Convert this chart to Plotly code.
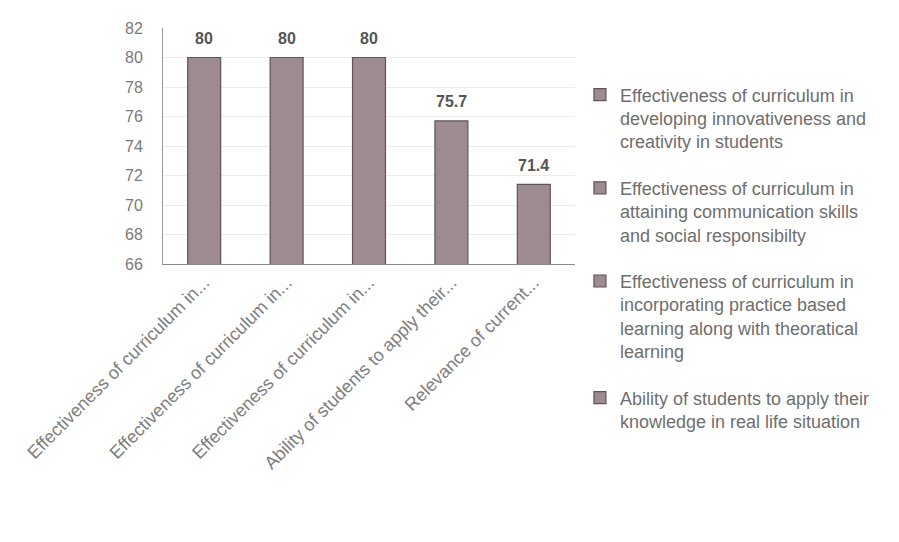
import plotly.graph_objects as go

categories = [
    "Effectiveness of curriculum in...",
    "Effectiveness of curriculum in...",
    "Effectiveness of curriculum in...",
    "Ability of students to apply their...",
    "Relevance of current...",
]
legend_names = [
    "Effectiveness of curriculum in<br>developing innovativeness and<br>creativity in students",
    "Effectiveness of curriculum in<br>attaining communication skills<br>and social responsibilty",
    "Effectiveness of curriculum in<br>incorporating practice based<br>learning along with theoratical<br>learning",
    "Ability of students to apply their<br>knowledge in real life situation",
    "Relevance of current...",
]
values = [80, 80, 80, 75.7, 71.4]
labels = ["80", "80", "80", "75.7", "71.4"]
show_in_legend = [True, True, True, True, False]
y_ticks = [66, 68, 70, 72, 74, 76, 78, 80, 82]

fig = go.Figure()
for i, (name, v, sl) in enumerate(zip(legend_names, values, show_in_legend)):
    fig.add_trace(go.Bar(
        x=[i], y=[v], name=name,
        marker=dict(color="#9d8b8f", line=dict(color="#5e5456", width=1.2)),
        width=0.40, showlegend=sl, legendgroup=f"g{i}",
    ))

for i, (v, lab) in enumerate(zip(values, labels)):
    fig.add_annotation(
        x=i, y=v, text=lab, showarrow=False, yshift=19, yanchor="middle",
        font=dict(family="Liberation Sans", size=16, color="#555555", weight="bold"),
    )

fig.update_layout(
    width=899, height=542,
    paper_bgcolor="white", plot_bgcolor="white",
    margin=dict(l=155, r=332, t=20, b=286, autoexpand=False),
    barmode="overlay",
    font=dict(family="Liberation Sans", color="#777777"),
    legend=dict(
        x=1.012, xanchor="left", y=0.795, yanchor="top",
        font=dict(family="Liberation Sans", size=18, color="#6e6e6e"),
        tracegroupgap=20, traceorder="grouped", valign="top",
        itemwidth=30, maxheight=520,
    ),
)
fig.update_xaxes(
    tickmode="array", tickvals=list(range(len(categories))), ticktext=categories,
    tickangle=-45, range=[-0.5, len(categories) - 0.5],
    tickfont=dict(family="Liberation Sans", size=18, color="#7e7e7e"),
    showline=True, linecolor="#8a8a8a", linewidth=1.2, showgrid=False,
    ticks="", automargin=False,
)
fig.update_yaxes(
    range=[66, 82], tickvals=y_ticks,
    tickfont=dict(family="Liberation Sans", size=16, color="#7a7a7a"),
    showline=True, linecolor="#9a9a9a", linewidth=1,
    showgrid=True, gridcolor="#ececec", gridwidth=1, zeroline=False,
    ticks="", ticklabelstandoff=16, automargin=False,
)
fig.write_html("out.html")
